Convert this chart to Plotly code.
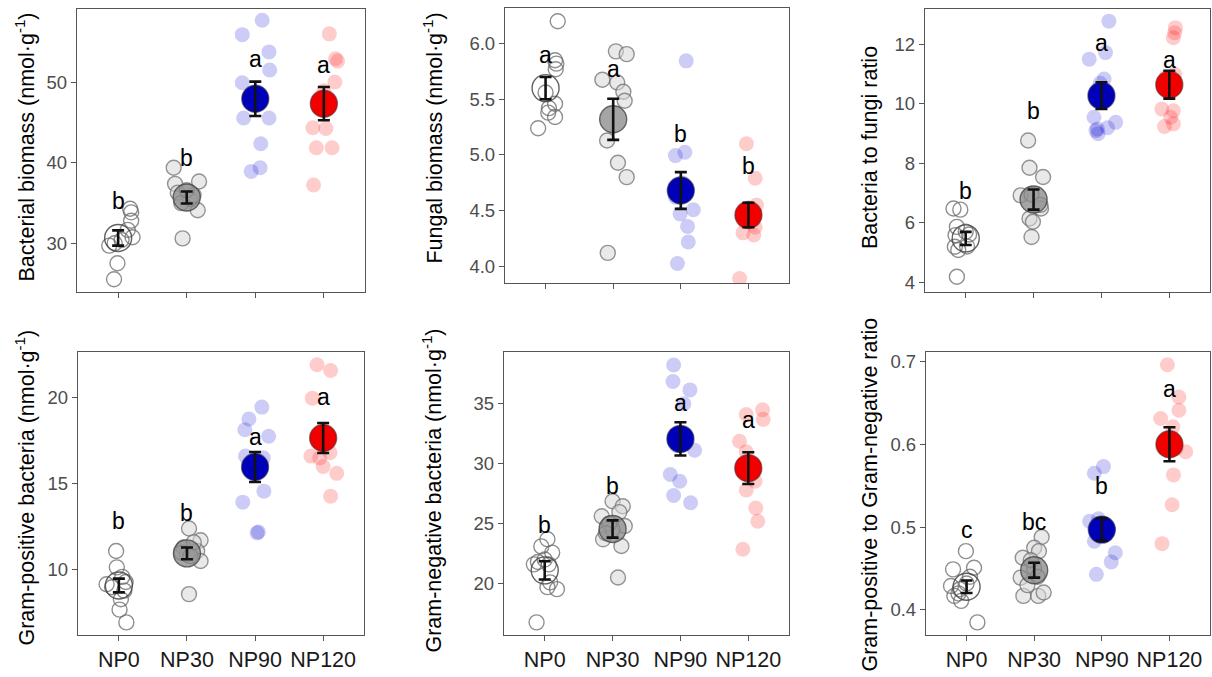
import plotly.graph_objects as go

groups = ["NP0", "NP30", "NP90", "NP120"]

# ---- Panel data ----
bac_vals = [
    [25.5, 27.5, 29.7, 30.0, 30.4, 30.75, 31.66, 32.8, 33.85, 34.3],
    [39.4, 37.4, 36.3, 37.7, 34.1, 30.6, 35.5, 35.0, 36.0, 36.6],
    [56.0, 57.8, 53.85, 51.6, 50.0, 45.6, 45.6, 42.4, 38.95, 39.4, 48.5],
    [56.1, 53.0, 52.7, 50.1, 44.4, 44.3, 41.9, 41.9, 37.25, 49.0],
]
bac_jit = [
    [-0.06, -0.01, -0.13, -0.05, 0.05, 0.21, 0.14, 0.19, 0.19, 0.175],
    [-0.19, -0.17, -0.13, 0.18, 0.16, -0.06, 0.05, -0.08, 0.1, 0.0],
    [-0.19, 0.10, 0.2, 0.21, -0.19, -0.17, 0.2, 0.08, -0.06, 0.07, 0.0],
    [0.08, 0.17, 0.2, 0.16, -0.16, 0.03, -0.11, 0.12, -0.15, 0.0],
]
bac_mean = [30.65, 35.7, 48.0, 47.4]
bac_se = [0.95, 0.75, 2.15, 2.07]
bac_let = ["b", "b", "a", "a"]
bac_let_y = [35.3, 40.56, 53.0, 52.2]

fun_vals = [
    [6.2, 5.85, 5.82, 5.77, 5.56, 5.46, 5.38, 5.34, 5.24, 5.42],
    [5.93, 5.905, 5.675, 5.65, 5.567, 5.487, 5.129, 4.929, 4.80, 4.12],
    [5.845, 4.994, 5.024, 4.507, 4.47, 4.358, 4.218, 4.024, 4.62, 4.75],
    [5.10, 4.79, 4.55, 4.28, 4.30, 3.89, 4.48, 4.45, 4.40, 4.35],
]
fun_jit = [
    [0.18, 0.14, 0.16, 0.15, 0.0, 0.14, 0.04, 0.14, -0.11, 0.05],
    [0.04, 0.2, -0.16, 0.06, 0.15, 0.17, -0.09, 0.07, 0.2, -0.08],
    [0.08, -0.08, 0.06, 0.185, -0.01, 0.1, 0.11, -0.05, -0.08, 0.02],
    [-0.03, 0.1, 0.12, 0.08, -0.08, -0.13, 0.0, 0.05, -0.05, 0.1],
]
fun_mean = [5.6, 5.32, 4.68, 4.46]
fun_se = [0.1, 0.185, 0.165, 0.11]
fun_let = ["a", "a", "b", "b"]
fun_let_y = [5.9, 5.77, 5.19, 4.9]

bf_vals = [
    [6.48, 6.44, 5.86, 5.58, 5.19, 5.08, 4.18, 5.6, 5.7, 5.2],
    [8.77, 7.85, 7.54, 6.92, 6.95, 6.48, 6.14, 6.03, 5.52, 6.6],
    [12.79, 11.51, 11.73, 10.84, 9.55, 9.16, 9.1, 9.38, 9.2, 9.0, 10.7],
    [12.57, 12.4, 12.23, 9.83, 9.77, 9.55, 9.24, 9.33, 10.9, 11.0],
]
bf_jit = [
    [-0.18, -0.08, -0.13, -0.15, -0.16, -0.11, -0.13, 0.05, 0.0, 0.02],
    [-0.08, -0.06, 0.14, -0.19, -0.03, 0.11, -0.06, -0.01, -0.03, 0.1],
    [0.11, -0.18, 0.06, 0.04, -0.11, -0.06, -0.08, 0.21, 0.09, -0.05, -0.02],
    [0.09, 0.08, 0.06, -0.11, 0.06, 0.02, -0.07, 0.06, -0.05, 0.08],
]
bf_mean = [5.47, 6.78, 10.28, 10.65]
bf_se = [0.22, 0.34, 0.45, 0.47]
bf_let = ["b", "b", "a", "a"]
bf_let_y = [7.07, 9.77, 12.04, 11.47]

gp_vals = [
    [11.1, 10.15, 9.17, 9.0, 9.3, 8.3, 7.7, 6.96, 8.8, 9.6],
    [12.4, 11.72, 11.1, 10.52, 8.6, 11.3, 10.9, 11.6, 11.0, 10.8],
    [18.75, 19.44, 18.13, 17.75, 16.6, 16.5, 14.57, 13.93, 12.2, 12.15, 15.9],
    [21.9, 21.56, 19.96, 16.6, 16.5, 16.0, 15.6, 14.28, 17.8, 16.8],
]
gp_jit = [
    [-0.04, -0.03, -0.18, -0.1, 0.1, 0.03, 0.01, 0.11, 0.08, 0.05],
    [0.03, 0.2, 0.15, 0.2, 0.03, -0.05, 0.0, 0.1, -0.08, 0.05],
    [-0.09, 0.1, -0.15, 0.2, -0.14, 0.12, 0.13, -0.18, 0.05, 0.03, 0.0],
    [-0.09, 0.11, -0.16, -0.18, -0.05, 0.0, 0.2, 0.11, 0.05, 0.1],
]
gp_mean = [9.1, 10.96, 15.97, 17.65]
gp_se = [0.4, 0.34, 0.87, 0.87]
gp_let = ["b", "b", "a", "a"]
gp_let_y = [12.83, 13.31, 17.71, 20.0]

gn_vals = [
    [23.7, 23.1, 22.58, 21.6, 21.8, 20.1, 19.53, 19.7, 16.76, 22.0, 21.6],
    [26.87, 26.45, 25.96, 25.62, 24.8, 23.69, 23.13, 20.5, 24.5, 25.0, 24.2],
    [38.24, 36.86, 36.16, 35.0, 31.12, 29.1, 28.54, 27.35, 26.74, 31.5, 32.0],
    [34.5, 33.7, 34.1, 31.87, 31.0, 28.54, 27.8, 26.3, 25.2, 22.86, 29.5],
]
gn_jit = [
    [0.04, -0.05, 0.11, -0.16, -0.1, 0.08, 0.18, 0.04, -0.12, 0.0, 0.06],
    [0.0, 0.15, 0.1, -0.16, 0.18, -0.14, 0.13, 0.08, 0.0, -0.05, -0.1],
    [-0.1, -0.11, 0.14, 0.05, 0.21, -0.15, -0.01, -0.1, 0.15, -0.05, 0.05],
    [0.21, 0.22, -0.03, -0.13, -0.03, 0.1, -0.03, 0.11, 0.14, -0.08, 0.05],
]
gn_mean = [21.1, 24.55, 32.07, 29.63]
gn_se = [0.76, 0.72, 1.39, 1.32]
gn_let = ["b", "b", "a", "a"]
gn_let_y = [24.85, 28.12, 35.1, 33.67]

pn_vals = [
    [0.471, 0.449, 0.451, 0.429, 0.425, 0.417, 0.411, 0.385, 0.432, 0.44, 0.42],
    [0.488, 0.475, 0.471, 0.463, 0.439, 0.417, 0.417, 0.421, 0.45, 0.46, 0.44, 0.43],
    [0.573, 0.565, 0.507, 0.51, 0.483, 0.469, 0.458, 0.443, 0.497, 0.5],
    [0.696, 0.657, 0.641, 0.631, 0.621, 0.591, 0.563, 0.527, 0.48, 0.6, 0.595],
]
pn_jit = [
    [-0.01, -0.2, 0.11, -0.23, -0.1, -0.18, -0.08, 0.16, 0.0, 0.05, -0.12],
    [0.11, 0.0, 0.07, -0.17, -0.2, -0.16, 0.06, 0.14, 0.0, -0.05, 0.05, -0.1],
    [0.025, -0.11, -0.18, -0.05, -0.11, 0.2, 0.14, -0.08, 0.1, 0.0],
    [-0.03, 0.14, 0.14, -0.13, 0.05, 0.24, 0.06, 0.04, -0.11, 0.0, 0.1],
]
pn_mean = [0.428, 0.448, 0.497, 0.60]
pn_se = [0.0075, 0.009, 0.0135, 0.0205]
pn_let = ["c", "bc", "b", "a"]
pn_let_y = [0.496, 0.506, 0.549, 0.667]

titles = [
    "Bacterial biomass (nmol·g<sup>-1</sup>)",
    "Fungal biomass (nmol·g<sup>-1</sup>)",
    "Bacteria to fungi ratio",
    "Gram-positive bacteria (nmol·g<sup>-1</sup>)",
    "Gram-negative bacteria (nmol·g<sup>-1</sup>)",
    "Gram-positive to Gram-negative ratio",
]
yticks = [
    [30, 40, 50],
    [4.0, 4.5, 5.0, 5.5, 6.0],
    [4, 6, 8, 10, 12],
    [10, 15, 20],
    [20, 25, 30, 35],
    [0.4, 0.5, 0.6, 0.7],
]
yticktext = [
    ["30", "40", "50"],
    ["4.0", "4.5", "5.0", "5.5", "6.0"],
    ["4", "6", "8", "10", "12"],
    ["10", "15", "20"],
    ["20", "25", "30", "35"],
    ["0.4", "0.5", "0.6", "0.7"],
]
yranges = [
    [23.9, 59.2],
    [3.848, 6.317],
    [3.67, 13.19],
    [6.24, 22.62],
    [15.72, 39.3],
    [0.370, 0.711],
]

W, H = 1212, 677
# pixel frames (left, right, top, bottom)
frames = [
    (77, 365, 8, 292),
    (505, 789, 7.3, 283),
    (925, 1210, 8.3, 291.7),
    (78, 364, 352.3, 635.7),
    (504, 789, 352.3, 635.7),
    (926, 1210, 352.3, 635.7),
]
title_pos = [(25, 147), (433, 138), (870, 147.5), (25, 488), (432, 491), (870, 495)]

panels = [
    (bac_vals, bac_jit, bac_mean, bac_se, bac_let, bac_let_y),
    (fun_vals, fun_jit, fun_mean, fun_se, fun_let, fun_let_y),
    (bf_vals, bf_jit, bf_mean, bf_se, bf_let, bf_let_y),
    (gp_vals, gp_jit, gp_mean, gp_se, gp_let, gp_let_y),
    (gn_vals, gn_jit, gn_mean, gn_se, gn_let, gn_let_y),
    (pn_vals, pn_jit, pn_mean, pn_se, pn_let, pn_let_y),
]

pt_fill = ["rgba(255,255,255,0)", "rgba(215,215,215,0.55)", "rgba(0,0,210,0.2)", "rgba(255,0,0,0.2)"]
pt_line = ["rgba(105,105,105,0.75)", "rgba(105,105,105,0.7)", "rgba(0,0,0,0)", "rgba(0,0,0,0)"]
pt_lw = [1.4, 1.4, 0, 0]
mean_fill = ["rgba(255,255,255,0)", "rgba(135,135,135,0.75)", "#0000b8", "#f20000"]
mean_line = ["rgba(70,70,70,0.85)", "rgba(70,70,70,0.8)", "rgba(40,40,80,0.6)", "rgba(90,40,40,0.6)"]

FONT = "Liberation Sans, Arial, sans-serif"
fig = go.Figure()
layout = dict(
    width=W, height=H, margin=dict(l=0, r=0, t=0, b=0),
    paper_bgcolor="white", plot_bgcolor="white", showlegend=False,
    font=dict(family=FONT),
)
annotations = []

for p, (vals, jit, mean, se, let, let_y) in enumerate(panels):
    n = p + 1
    xa = "x" if n == 1 else f"x{n}"
    ya = "y" if n == 1 else f"y{n}"
    l, r, t, b = frames[p]
    xdom = [l / W, r / W]
    ydom = [1 - b / H, 1 - t / H]
    bottom = p >= 3
    layout[f"xaxis{'' if n == 1 else n}"] = dict(
        domain=xdom, range=[-0.6, 3.6], anchor=ya,
        tickmode="array", tickvals=[0, 1, 2, 3], ticktext=groups,
        showticklabels=bottom, ticks="outside", ticklen=5, tickwidth=1.3,
        tickcolor="#555555", showline=True, linecolor="#555555", linewidth=1.3,
        mirror=True, showgrid=False, zeroline=False,
        tickfont=dict(size=21.5, color="#1a1a1a", family=FONT),
    )
    layout[f"yaxis{'' if n == 1 else n}"] = dict(
        domain=ydom, range=yranges[p], anchor=xa,
        tickmode="array", tickvals=yticks[p], ticktext=yticktext[p],
        ticks="outside", ticklen=5, tickwidth=1.3, tickcolor="#555555",
        showline=True, linecolor="#555555", linewidth=1.3, mirror=True,
        showgrid=False, zeroline=False,
        tickfont=dict(size=18.5, color="#4d4d4d", family=FONT),
    )
    for g in range(4):
        xs = [g + d for d in jit[g]]
        fig.add_trace(go.Scatter(
            x=xs, y=vals[g], xaxis=xa, yaxis=ya, mode="markers",
            marker=dict(size=15, color=pt_fill[g],
                        line=dict(color=pt_line[g], width=pt_lw[g])),
            hoverinfo="skip",
        ))
    for g in range(4):
        fig.add_trace(go.Scatter(
            x=[g], y=[mean[g]], xaxis=xa, yaxis=ya, mode="markers",
            marker=dict(size=27, color=mean_fill[g],
                        line=dict(color=mean_line[g], width=1.4)),
            hoverinfo="skip",
        ))
    fig.add_trace(go.Scatter(
        x=[0, 1, 2, 3], y=mean, xaxis=xa, yaxis=ya, mode="markers",
        marker=dict(size=2, color="rgba(0,0,0,0)"),
        error_y=dict(type="data", array=se, visible=True, color="#111111",
                     thickness=2.6, width=6),
        hoverinfo="skip",
    ))
    for g in range(4):
        annotations.append(dict(
            x=g, y=let_y[g], xref=xa, yref=ya, text=let[g], showarrow=False,
            font=dict(size=23, color="black", family=FONT),
            xanchor="center", yanchor="middle",
        ))
    tx, ty = title_pos[p]
    annotations.append(dict(
        x=tx / W, y=1 - ty / H, xref="paper", yref="paper", text=titles[p],
        showarrow=False, textangle=-90, xanchor="center", yanchor="middle",
        font=dict(size=21.5, color="black", family=FONT),
    ))

layout["annotations"] = annotations
fig.update_layout(**layout)
fig.write_html("out.html")
